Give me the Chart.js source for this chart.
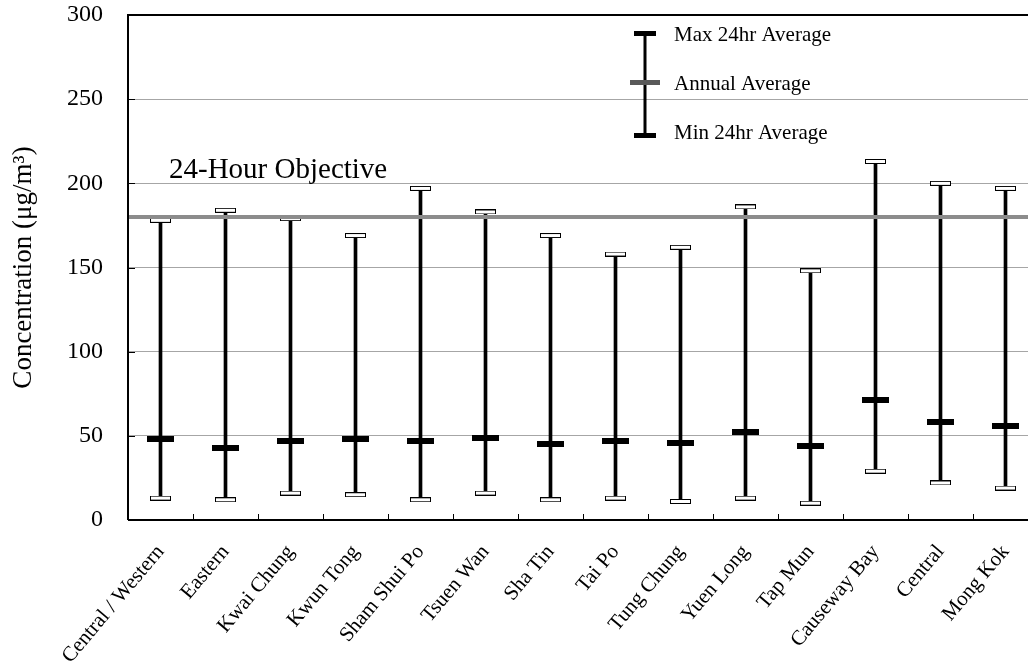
<!DOCTYPE html>
<html>
<head>
<meta charset="utf-8">
<script src="https://cdn.jsdelivr.net/npm/chart.js@4.4.1/dist/chart.umd.min.js"></script>
<style>
html,body{margin:0;padding:0;background:#fff;overflow:hidden;}
#wrap{width:1050px;height:668px;}
</style>
</head>
<body>
<div id="wrap"><canvas id="c" width="1050" height="668"></canvas></div>
<script>
const categories = ['Central / Western','Eastern','Kwai Chung','Kwun Tong','Sham Shui Po','Tsuen Wan','Sha Tin','Tai Po','Tung Chung','Yuen Long','Tap Mun','Causeway Bay','Central','Mong Kok'];
const maxValues = [178, 184, 179, 169, 197, 183, 169, 158, 162, 186, 148, 213, 200, 197];
const avgValues = [48, 43, 47, 48, 47, 49, 45, 47, 46, 52, 44, 71, 58, 56];
const minValues = [13, 12, 16, 15, 12, 16, 12, 13, 11, 13, 10, 29, 22, 19];
const objectiveValue = 180;
const objectiveLabel = '24-Hour Objective';
const yTickValues = [0, 50, 100, 150, 200, 250, 300];
const yTitle = 'Concentration (\u03bcg/m\u00b3)';
const legendLabels = ['Max 24hr Average', 'Annual Average', 'Min 24hr Average'];

const SERIF = "'Liberation Serif', 'Times New Roman', serif";

function makeCap(w, h) {
  const c = document.createElement('canvas');
  c.width = w; c.height = h;
  const g = c.getContext('2d');
  g.fillStyle = '#000'; g.fillRect(0, 0, w, h);
  g.fillStyle = '#fff'; g.fillRect(1, 1, w - 2, h - 2);
  return c;
}
function makeBar(w, h, col) {
  const c = document.createElement('canvas');
  c.width = w; c.height = h;
  const g = c.getContext('2d');
  g.fillStyle = col; g.fillRect(0, 0, w, h);
  return c;
}
const capImg = makeCap(21, 5);
const avgImg = makeBar(27, 6, '#000');

const decor = {
  id: 'decor',
  afterDatasetsDraw(chart) {
    const ctx = chart.ctx, a = chart.chartArea;
    const x = chart.scales.x, y = chart.scales.y;
    ctx.save();
    // objective line
    const oy = y.getPixelForValue(objectiveValue);
    ctx.strokeStyle = '#8c8c8c';
    ctx.lineWidth = 4;
    ctx.beginPath(); ctx.moveTo(a.left, oy); ctx.lineTo(a.right, oy); ctx.stroke();
    ctx.fillStyle = '#000';
    ctx.font = '29px ' + SERIF;
    ctx.textAlign = 'left'; ctx.textBaseline = 'alphabetic';
    ctx.fillText(objectiveLabel, 169, y.getPixelForValue(200) - 5);
    // plot frame
    ctx.strokeStyle = '#000'; ctx.lineWidth = 2;
    ctx.beginPath();
    ctx.moveTo(a.left, a.bottom); ctx.lineTo(a.left, a.top); ctx.lineTo(a.right + 5, a.top);
    ctx.moveTo(a.left, a.bottom); ctx.lineTo(a.right + 5, a.bottom);
    ctx.stroke();
    // x category boundary ticks (inward)
    ctx.lineWidth = 1;
    const half = (x.getPixelForValue(1) - x.getPixelForValue(0)) / 2;
    ctx.beginPath();
    for (let i = 0; i < categories.length; i++) {
      const bx = Math.round(x.getPixelForValue(i) + half) + 0.5;
      ctx.moveTo(bx, a.bottom); ctx.lineTo(bx, a.bottom - 6);
    }
    // y inward ticks
    yTickValues.forEach(v => {
      const ty = Math.round(y.getPixelForValue(v)) + 0.5;
      ctx.moveTo(a.left, ty); ctx.lineTo(a.left + 7, ty);
    });
    ctx.stroke();
    // legend
    const lx = 645;
    ctx.fillStyle = '#000';
    ctx.fillRect(lx - 1.5, 32, 3, 105);
    ctx.fillRect(lx - 11, 31, 22, 5);
    ctx.fillRect(lx - 11, 133, 22, 5);
    ctx.fillStyle = '#595959';
    ctx.fillRect(lx - 15, 80, 30, 5);
    ctx.fillStyle = '#000';
    ctx.font = '21px ' + SERIF;
    ctx.textBaseline = 'middle';
    ctx.fillText(legendLabels[0], 674, 35);
    ctx.fillText(legendLabels[1], 674, 84);
    ctx.fillText(legendLabels[2], 674, 133);
    ctx.restore();
  }
};

new Chart(document.getElementById('c'), {
  type: 'bar',
  data: {
    labels: categories,
    datasets: [
      {
        type: 'bar',
        label: 'Range',
        data: categories.map((c, i) => [minValues[i], maxValues[i]]),
        backgroundColor: '#000',
        borderWidth: 0,
        barThickness: 3,
        grouped: false,
        order: 5
      },
      {
        type: 'line',
        label: legendLabels[0],
        data: maxValues,
        showLine: false,
        pointStyle: capImg,
        pointRadius: 5,
        order: 1
      },
      {
        type: 'line',
        label: legendLabels[2],
        data: minValues,
        showLine: false,
        pointStyle: capImg,
        pointRadius: 5,
        order: 1
      },
      {
        type: 'line',
        label: legendLabels[1],
        data: avgValues,
        showLine: false,
        pointStyle: avgImg,
        pointRadius: 5,
        order: 0
      }
    ]
  },
  options: {
    responsive: false,
    animation: false,
    events: [],
    layout: { padding: { top: 15, right: 12, left: 0, bottom: 0 } },
    plugins: { legend: { display: false }, tooltip: { enabled: false }, title: { display: false } },
    scales: {
      x: {
        offset: true,
        grid: { display: false, drawTicks: false },
        border: { display: false },
        ticks: {
          autoSkip: false, minRotation: 50, maxRotation: 50,
          color: '#000', padding: 20,
          font: { family: SERIF, size: 21 }
        },
        afterFit(s) { s.height = 148; s.paddingLeft = 0; s.paddingRight = 0; s.paddingTop = 0; s.paddingBottom = 0; }
      },
      y: {
        min: 0, max: 300,
        afterBuildTicks(s) { s.ticks = yTickValues.map(v => ({ value: v })); },
        grid: { color: '#a6a6a6', lineWidth: 1, drawTicks: false },
        border: { display: false },
        ticks: { color: '#000', padding: 25, font: { family: SERIF, size: 24 } },
        title: {
          display: true, text: yTitle, color: '#000',
          font: { family: SERIF, size: 27 },
          padding: { top: 8, bottom: 0 }
        },
        afterFit(s) { s.width = 128; s.paddingTop = 0; s.paddingBottom = 0; }
      }
    }
  },
  plugins: [decor]
});
</script>
</body>
</html>
